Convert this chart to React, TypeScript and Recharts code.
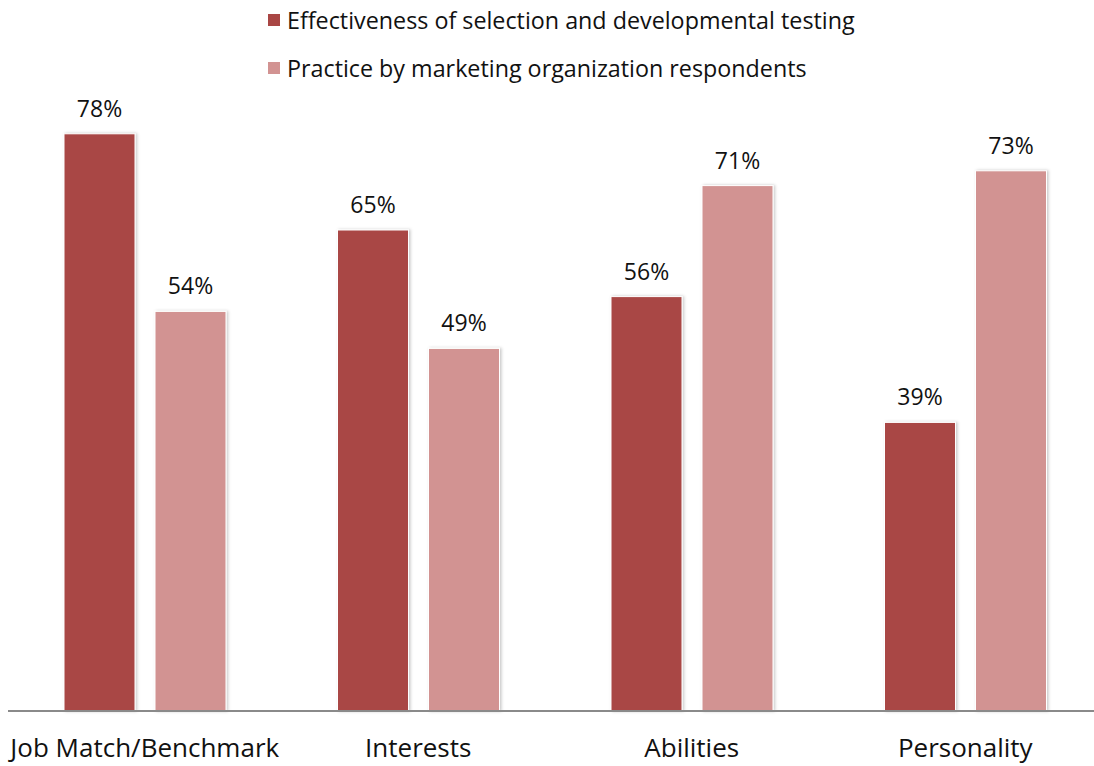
import React from 'react';
import { BarChart, Bar, XAxis, YAxis, Legend, LabelList } from 'recharts';

const categories = ['Job Match/Benchmark', 'Interests', 'Abilities', 'Personality'];
const effectiveness = [78, 65, 56, 39];
const practice = [54, 49, 71, 73];

const seriesNames = {
	effectiveness: 'Effectiveness of selection and developmental testing',
	practice: 'Practice by marketing organization respondents',
};

const data = categories.map((name, i) => ({
	name,
	effectiveness: effectiveness[i],
	practice: practice[i],
}));

const FONT = '"Open Sans", Lato, sans-serif';

const LegendBox = (props: any) => (
	<div style={ { fontFamily: FONT, fontSize: 23.3, color: '#111' } }>
		{ (props.payload || []).map((item: any) => (
			<div key={ item.value } style={ { display: 'flex', alignItems: 'center', height: 48 } }>
				<span style={ { width: 12, height: 12, background: item.color, marginRight: 7 } } />
				<span>{ item.value }</span>
			</div>
		)) }
	</div>
);

const BarShape = (props: any) => (
	<rect
		x={ props.x }
		y={ props.y }
		width={ props.width }
		height={ props.height }
		fill={ props.fill }
		stroke="#ffffff"
		strokeWidth={ 1 }
		filter="url(#barShadow)"
	/>
);

export default function App() {
	return (
		<div style={ { position: 'fixed', left: 0, top: 0, width: 1094, height: 766, overflow: 'hidden', background: '#fff' } }>
			<BarChart
				width={ 1102 }
				height={ 766 }
				data={ data }
				margin={ { top: 45, right: 0, left: 8, bottom: 0 } }
				barGap={ 20 }
				barSize={ 71 }
			>
				<defs>
					<filter id="barShadow" x="-10%" y="-10%" width="130%" height="130%">
						<feDropShadow dx="1.5" dy="0" stdDeviation="1.5" floodColor="#000" floodOpacity="0.22" />
					</filter>
				</defs>
				<XAxis
					dataKey="name"
					height={ 55 }
					tickLine={ false }
					axisLine={ { stroke: '#8a8a8a', strokeWidth: 2 } }
					tick={ { fontFamily: FONT, fontSize: 26, fill: '#111' } }
					tickMargin={ 22 }
					interval={ 0 }
				/>
				<YAxis hide domain={ [0, 90] } />
				<Legend
					layout="vertical"
					align="center"
					verticalAlign="middle"
					wrapperStyle={ { top: -4, left: 268, width: 'auto', height: 'auto' } }
					content={ LegendBox }
				/>
				<Bar
					dataKey="effectiveness"
					name={ seriesNames.effectiveness }
					fill="#A94644"
					shape={ BarShape }
					isAnimationActive={ false }
				>
					<LabelList
						dataKey="effectiveness"
						position="top"
						offset={ 17 }
						formatter={ (v: any) => `${ v }%` }
						style={ { fontFamily: FONT, fontSize: 23, fill: '#111' } }
					/>
				</Bar>
				<Bar
					dataKey="practice"
					name={ seriesNames.practice }
					fill="#D29392"
					shape={ BarShape }
					isAnimationActive={ false }
				>
					<LabelList
						dataKey="practice"
						position="top"
						offset={ 17 }
						formatter={ (v: any) => `${ v }%` }
						style={ { fontFamily: FONT, fontSize: 23, fill: '#111' } }
					/>
				</Bar>
			</BarChart>
		</div>
	);
}
